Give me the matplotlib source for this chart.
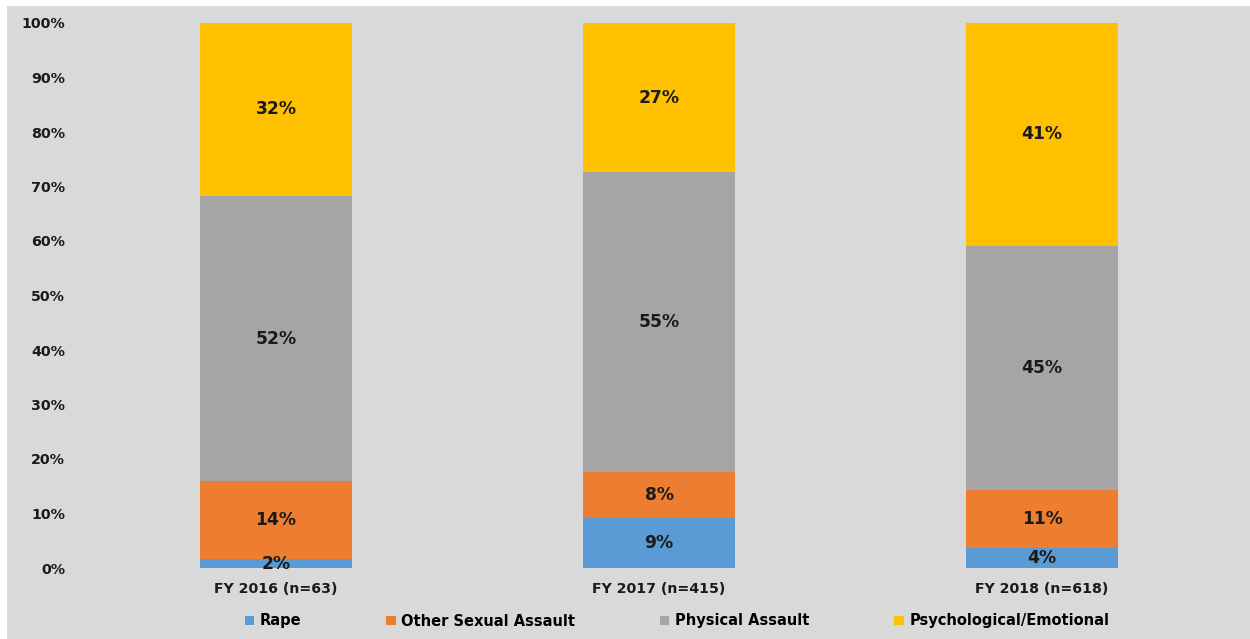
import matplotlib.pyplot as plt
from matplotlib.patches import Rectangle
import numpy as np

categories = ['FY 2016 (n=63)', 'FY 2017 (n=415)', 'FY 2018 (n=618)']
series_names = ['Rape', 'Other Sexual Assault', 'Physical Assault', 'Psychological/Emotional']
# share of each year's cases, in percent
rape = [1.6, 9.2, 3.6]
other_sexual = [14.3, 8.4, 10.8]
physical = [52.4, 55.0, 44.7]
psychological = [31.7, 27.4, 40.9]
colors = ['#5b9bd5', '#ed7d31', '#a5a5a5', '#ffc000']

bg = '#d9d9d9'
fig = plt.figure(figsize=(12.5, 6.39), dpi=100, facecolor='white')
# grey chart area with thin white strip on top and left
fig.patches.append(Rectangle((7 / 1250, 0), 1, (639 - 6) / 639, transform=fig.transFigure,
                             facecolor=bg, edgecolor='none', zorder=-10))

ax = fig.add_axes([84.5 / 1250, 71 / 639, 1149 / 1250, 545 / 639])
ax.set_facecolor('none')

x = np.arange(len(categories))
bottom = np.zeros(len(categories))
for name, vals, col in zip(series_names, [rape, other_sexual, physical, psychological], colors):
    vals = np.array(vals)
    ax.bar(x, vals, 0.397, bottom=bottom, color=col, label=name, zorder=2)
    for xi, b, v in zip(x, bottom, vals):
        ax.text(xi, b + v / 2, f'{round(v)}%', ha='center', va='center',
                fontsize=12.3, fontweight='bold', color='#1a1a1a', zorder=3)
    bottom += vals

ax.set_xlim(-0.5, 2.5)
ax.set_ylim(0, 100)
ax.set_yticks(range(0, 101, 10))
ax.set_yticklabels([f'{t}%' for t in range(0, 101, 10)])
ax.set_xticks(x)
ax.set_xticklabels(categories)
for lab in ax.get_yticklabels():
    lab.set_fontsize(10.3)
    lab.set_fontweight('bold')
for lab in ax.get_xticklabels():
    lab.set_fontsize(10.2)
    lab.set_fontweight('bold')
ax.tick_params(axis='y', length=0, pad=14, colors='#1a1a1a')
ax.tick_params(axis='x', length=0, pad=10, colors='#1a1a1a')
for s in ax.spines.values():
    s.set_visible(False)

fig.legend(loc='center', bbox_to_anchor=(677 / 1250, 18 / 639), ncol=4, frameon=False,
           prop={'weight': 'bold', 'size': 10.5}, handlelength=0.65, handleheight=0.65,
           handletextpad=0.4, columnspacing=5.8)

fig.savefig('out.png', dpi=100, facecolor=fig.get_facecolor())
